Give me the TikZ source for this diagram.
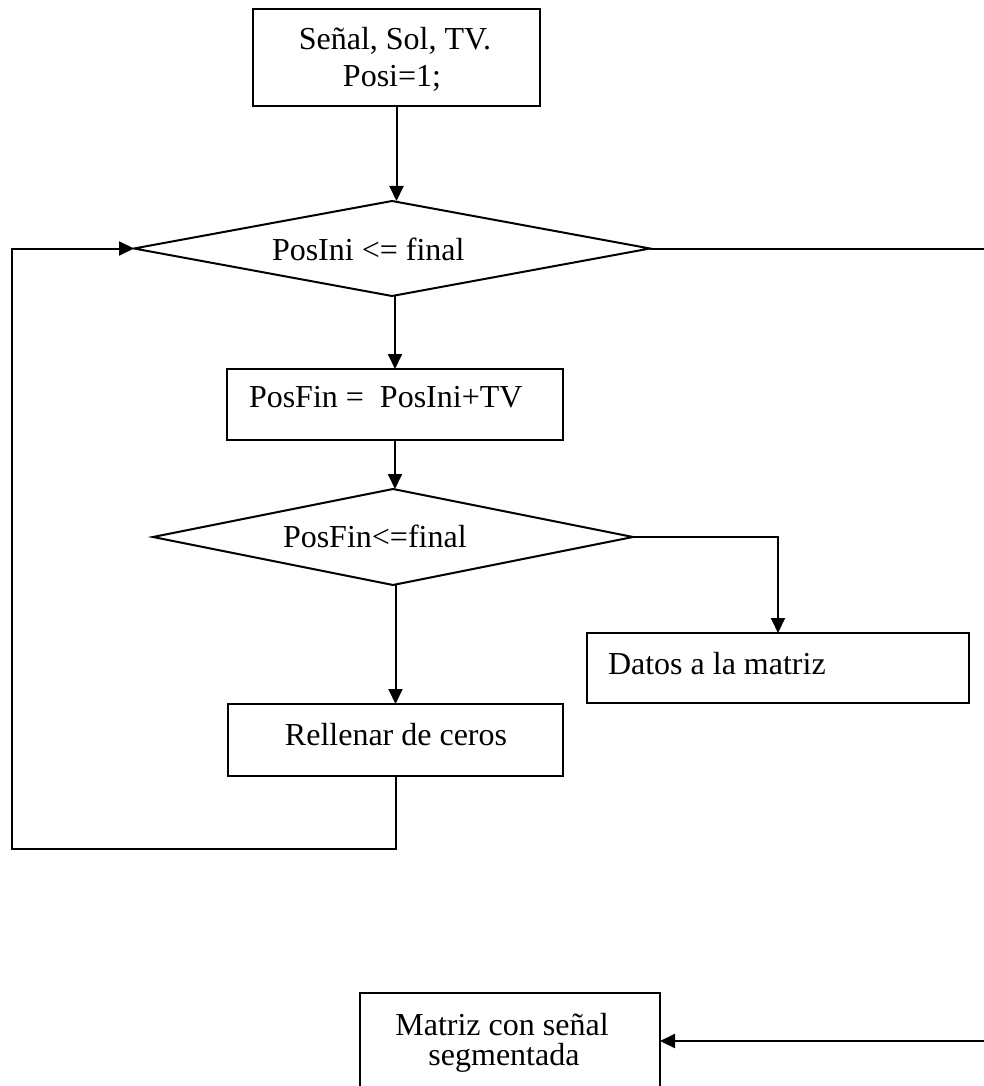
\documentclass[tikz,border=0pt]{standalone}
\usepackage{fontspec}
\setmainfont{Liberation Serif}
\usetikzlibrary{shapes.geometric,arrows.meta}
\begin{document}
\begin{tikzpicture}[x=1pt,y=-1pt,
  line width=2pt,
  every node/.style={inner sep=0pt,outer sep=0pt},
  boxnode/.style={draw,rectangle},
  decnode/.style={draw,diamond},
  lbl/.style={font=\fontsize{32}{38}\selectfont},
  arr/.style={-{Triangle[length=15pt,width=14pt]}}]
\useasboundingbox (0,0) rectangle (984,1086);
\clip (0,0) rectangle (984,1086);

% start block
\node[boxnode,minimum width=287pt,minimum height=97pt] (inicio) at (396.5,57.5) {};
\node[lbl,anchor=base] (inicioA) at (395,50) {Señal, Sol, TV.};
\node[lbl,anchor=base] (inicioB) at (392,87) {Posi=1;};

% outer loop test
\node[decnode,minimum width=516pt,minimum height=95pt] (bucle) at (392,248.5) {};
\node[lbl,anchor=base west] (bucleT) at (272,260) {PosIni <= final};

% end of window
\node[boxnode,minimum width=336pt,minimum height=71pt] (fin) at (395,404.5) {};
\node[lbl,anchor=base west] (finT) at (249,407) {PosFin =~~PosIni+TV};

% inner test
\node[decnode,minimum width=480pt,minimum height=96pt] (prueba) at (393,537) {};
\node[lbl,anchor=base west] (pruebaT) at (283,547) {PosFin<=final};

% copy data
\node[boxnode,minimum width=382pt,minimum height=70pt] (datos) at (778,668) {};
\node[lbl,anchor=base west] (datosT) at (608,674) {Datos a la matriz};

% zero padding
\node[boxnode,minimum width=335pt,minimum height=72pt] (ceros) at (395.5,740) {};
\node[lbl,anchor=base] (cerosT) at (396,745) {Rellenar de ceros};

% result
\node[boxnode,minimum width=300pt,minimum height=110pt] (matriz) at (510,1048) {};
\node[lbl,anchor=base] (matrizA) at (502,1035) {Matriz con señal};
\node[lbl,anchor=base] (matrizB) at (504,1065) {segmentada};

% free ends of connectors
\coordinate (loopBL) at (12,849);
\coordinate (salida) at (984,248.5);
\coordinate (entrada) at (984,1041);

% connectors
\draw[arr] (inicio.south) -- (inicio.south |- bucle.north);
\draw[arr] (bucle.south -| fin.north) -- (fin.north);
\draw[arr] (fin.south) -- (fin.south |- prueba.north);
\draw[arr] (prueba.south -| ceros.north) -- (ceros.north);
\draw[arr] (prueba.east) -| (datos.north);
\draw[arr] (ceros.south) |- (loopBL) |- (bucle.west);
\draw (bucle.east) -- (salida);
\draw[arr] (entrada) -- (entrada -| matriz.east);
\end{tikzpicture}
\end{document}
